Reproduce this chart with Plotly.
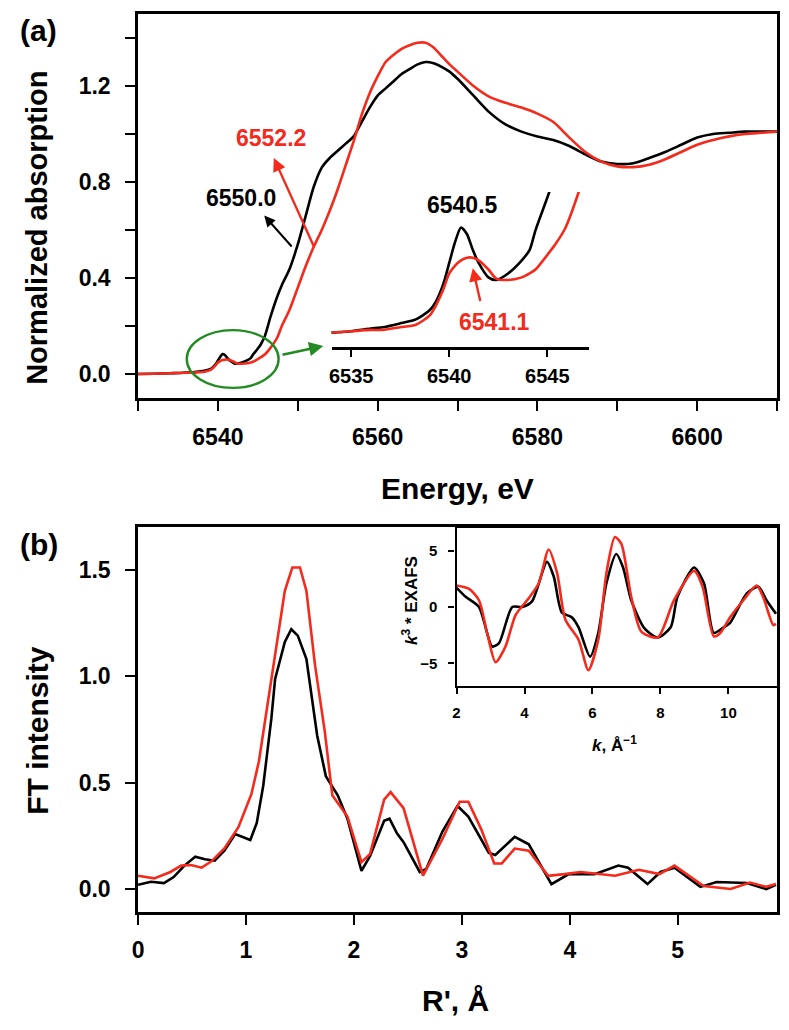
import plotly.graph_objects as go

# ---------------- Panel (a): XANES ----------------
energy = [6530, 6532, 6534, 6535, 6536, 6536.6, 6537.5, 6538.3, 6539, 6539.3, 6539.7, 6540, 6540.3,
          6540.6, 6540.9, 6541.2, 6541.5, 6542, 6542.4, 6543, 6543.7, 6544.1, 6544.4, 6545.1, 6545.4,
          6545.9, 6546.6, 6547.4, 6548, 6549, 6550, 6551, 6552, 6553, 6554, 6555, 6556, 6557, 6558,
          6559, 6560, 6561, 6562, 6563, 6564, 6565, 6566, 6567, 6568, 6569, 6570, 6572, 6574, 6576,
          6578, 6580, 6582, 6584, 6586, 6588, 6590, 6592, 6594, 6596, 6598, 6600, 6602, 6604, 6606,
          6608, 6610]
xanes_black = [0.000, 0.001, 0.003, 0.004, 0.006, 0.007, 0.010, 0.013, 0.020, 0.026, 0.040, 0.056, 0.072,
               0.083, 0.078, 0.066, 0.056, 0.045, 0.043, 0.048, 0.058, 0.066, 0.081, 0.110, 0.125,
               0.160, 0.240, 0.320, 0.370, 0.440, 0.540, 0.660, 0.780, 0.860, 0.900, 0.930, 0.960, 0.990, 1.050,
               1.110, 1.160, 1.190, 1.220, 1.250, 1.270, 1.290, 1.300, 1.295, 1.280, 1.260, 1.230, 1.160, 1.090, 1.040,
               1.010, 0.990, 0.975, 0.950, 0.915, 0.885, 0.875, 0.878, 0.900, 0.925, 0.955, 0.985, 1.000, 1.005, 1.010,
               1.010, 1.010]
xanes_red = [0.000, 0.001, 0.003, 0.004, 0.005, 0.005, 0.007, 0.009, 0.016, 0.023, 0.036, 0.048, 0.054,
             0.058, 0.060, 0.060, 0.058, 0.051, 0.044, 0.043, 0.045, 0.048, 0.051, 0.064, 0.070,
             0.082, 0.110, 0.150, 0.200, 0.270, 0.360, 0.450, 0.530, 0.600, 0.680, 0.770, 0.870, 0.970, 1.080,
             1.170, 1.240, 1.300, 1.330, 1.355, 1.370, 1.380, 1.380, 1.360, 1.325, 1.290, 1.260, 1.200, 1.155, 1.130,
             1.110, 1.085, 1.050, 0.985, 0.925, 0.885, 0.865, 0.862, 0.872, 0.895, 0.925, 0.955, 0.975, 0.990, 1.000,
             1.005, 1.010]

a_xticks = [6530, 6540, 6550, 6560, 6570, 6580, 6590, 6600, 6610]
a_xlabels = ["", "6540", "", "6560", "", "6580", "", "6600", ""]
a_yticks = [0.0, 0.2, 0.4, 0.6, 0.8, 1.0, 1.2, 1.4]
a_ylabels = ["0.0", "", "0.4", "", "0.8", "", "1.2", ""]
inset_a_ticks = [6535, 6540, 6545]

# ---------------- Panel (b): FT-EXAFS ----------------
r_black = [0.0, 0.12, 0.24, 0.33, 0.43, 0.53, 0.62, 0.71, 0.80, 0.90, 1.04, 1.10, 1.16, 1.235, 1.27, 1.36,
           1.42, 1.48, 1.56, 1.66, 1.74, 1.85, 1.94, 2.07, 2.15, 2.28, 2.33, 2.40, 2.46, 2.61, 2.67, 2.82,
           2.96, 3.06, 3.25, 3.31, 3.49, 3.62, 3.83, 3.99, 4.23, 4.45, 4.54, 4.72, 4.84, 4.97, 5.21, 5.36,
           5.64, 5.82, 5.91]
ft_black = [0.020, 0.034, 0.028, 0.056, 0.110, 0.152, 0.140, 0.133, 0.180, 0.258, 0.230, 0.310, 0.485, 0.800, 0.986, 1.160,
            1.220, 1.190, 1.080, 0.720, 0.530, 0.440, 0.330, 0.085, 0.155, 0.320, 0.330, 0.260, 0.220, 0.080, 0.094, 0.270,
            0.390, 0.340, 0.170, 0.160, 0.245, 0.210, 0.023, 0.070, 0.070, 0.110, 0.100, 0.023, 0.080, 0.100, 0.010, 0.033,
            0.028, 0.000, 0.020]
r_red = [0.0, 0.15, 0.30, 0.40, 0.49, 0.59, 0.68, 0.80, 0.93, 1.05, 1.12, 1.18, 1.25, 1.36, 1.43, 1.50,
         1.56, 1.64, 1.73, 1.80, 1.94, 2.07, 2.15, 2.28, 2.34, 2.40, 2.46, 2.64, 2.82, 2.98, 3.06, 3.18,
         3.30, 3.37, 3.49, 3.62, 3.80, 3.95, 4.10, 4.42, 4.64, 4.83, 4.97, 5.24, 5.49, 5.67, 5.82, 5.91]
ft_red = [0.062, 0.050, 0.080, 0.110, 0.113, 0.100, 0.130, 0.190, 0.290, 0.445, 0.600, 0.800, 1.050, 1.400, 1.510, 1.510,
          1.400, 1.050, 0.740, 0.440, 0.340, 0.126, 0.165, 0.420, 0.455, 0.420, 0.380, 0.063, 0.235, 0.410, 0.410, 0.280,
          0.120, 0.120, 0.190, 0.180, 0.062, 0.070, 0.080, 0.062, 0.090, 0.070, 0.110, 0.014, 0.000, 0.030, 0.010, 0.023]
b_xticks = [0, 1, 2, 3, 4, 5]
b_yticks = [0.0, 0.5, 1.0, 1.5]
b_ylabels = ["0.0", "0.5", "1.0", "1.5"]

# Inset (b): k^3-weighted EXAFS
k_black = [2.0, 2.27, 2.66, 3.05, 3.25, 3.64, 3.93, 4.22, 4.66, 4.86, 5.10, 5.39, 5.59, 5.93, 6.17, 6.41,
           6.70, 6.90, 7.14, 7.53, 7.92, 8.30, 8.50, 8.99, 9.28, 9.57, 9.86, 10.05, 10.54, 10.88, 11.12, 11.40]
chi_black = [1.7, 0.9, 0.0, -3.5, -3.2, 0.0, 0.0, 0.5, 4.0, 2.7, -0.5, -0.9, -1.8, -4.4, -2.3, 2.1,
             4.7, 3.5, 0.6, -1.9, -2.7, -1.8, 0.9, 3.5, 2.1, -2.3, -1.8, -1.4, 1.2, 1.8, 0.6, -0.6]
k_red = [2.0, 2.37, 2.66, 2.90, 3.15, 3.44, 3.74, 4.13, 4.42, 4.71, 4.96, 5.20, 5.59, 5.88, 6.17, 6.41,
         6.66, 6.85, 7.14, 7.44, 7.92, 8.40, 8.99, 9.24, 9.57, 9.76, 10.05, 10.44, 10.83, 11.02, 11.32, 11.40]
chi_red = [1.9, 1.6, 0.6, -2.3, -4.9, -3.5, -0.7, 0.8, 2.1, 5.1, 3.0, -1.1, -2.9, -5.6, -2.9, 3.0,
           6.2, 5.6, 0.9, -2.2, -2.7, 0.6, 3.2, 1.8, -2.6, -2.3, -0.9, 0.6, 1.9, 0.9, -1.6, -1.5]
inset_b_xticks = [2, 4, 6, 8, 10]
inset_b_yticks = [-5, 0, 5]

BLACK = "#000000"
RED = "#F42A1C"
GREEN = "#228B22"
FONT = "Arial, Liberation Sans, sans-serif"
# the page body has an 8 px margin: the figure is sized to fit inside it
OFF = 8
W, H = 789 - 2 * OFF, 1030 - 2 * OFF


def px(x):
    return (x - OFF) / W


def py(y):
    return 1 - (y - OFF) / H


fig = go.Figure()
lw = 2.6
smooth = dict(shape="spline", smoothing=0.7)
fig.add_trace(go.Scatter(x=energy, y=xanes_black, mode="lines", line=dict(color=BLACK, width=lw, **smooth), xaxis="x", yaxis="y"))
fig.add_trace(go.Scatter(x=energy, y=xanes_red, mode="lines", line=dict(color=RED, width=lw, **smooth), xaxis="x", yaxis="y"))
fig.add_trace(go.Scatter(x=energy, y=xanes_black, mode="lines", line=dict(color=BLACK, width=lw, **smooth), xaxis="x2", yaxis="y2"))
fig.add_trace(go.Scatter(x=energy, y=xanes_red, mode="lines", line=dict(color=RED, width=lw, **smooth), xaxis="x2", yaxis="y2"))
fig.add_trace(go.Scatter(x=r_black, y=ft_black, mode="lines", line=dict(color=BLACK, width=lw), xaxis="x3", yaxis="y3"))
fig.add_trace(go.Scatter(x=r_red, y=ft_red, mode="lines", line=dict(color=RED, width=lw), xaxis="x3", yaxis="y3"))
fig.add_trace(go.Scatter(x=k_black, y=chi_black, mode="lines", line=dict(color=BLACK, width=lw, **smooth), xaxis="x4", yaxis="y4"))
fig.add_trace(go.Scatter(x=k_red, y=chi_red, mode="lines", line=dict(color=RED, width=lw, **smooth), xaxis="x4", yaxis="y4"))

tick_font = dict(family=FONT, size=23, color="black", weight="bold")
frame = dict(showline=True, linewidth=2.6, linecolor="black", mirror=True, showgrid=False, zeroline=False,
             ticks="outside", ticklen=10, tickwidth=2.4, tickcolor="black", tickfont=tick_font)

fig.update_layout(
    width=W, height=H, margin=dict(l=0, r=0, t=0, b=0), showlegend=False,
    paper_bgcolor="white", plot_bgcolor="rgba(0,0,0,0)",
    xaxis=dict(domain=[px(133), px(777)], anchor="y", range=[6530, 6610], tickvals=a_xticks, ticktext=a_xlabels,
               ticklabelstandoff=7, **frame),
    yaxis=dict(domain=[py(398), py(14)], anchor="x", range=[-0.1, 1.5], tickvals=a_yticks, ticktext=a_ylabels,
               ticklabelstandoff=10, **frame),
    xaxis2=dict(domain=[px(328), px(587)], anchor="y2", range=[6534, 6547.1], tickvals=inset_a_ticks,
                showline=True, linewidth=2.6, linecolor="black", mirror=False, showgrid=False, zeroline=False,
                ticks="outside", ticklen=7, tickwidth=2.4, tickcolor="black", ticklabelstandoff=2,
                tickfont=dict(family=FONT, size=20, color="black", weight="bold")),
    yaxis2=dict(domain=[py(347), py(192)], anchor="x2", range=[-0.008, 0.11], visible=False),
    xaxis3=dict(domain=[px(133), px(777)], anchor="y3", range=[0, 5.92], tickvals=b_xticks,
                ticklabelstandoff=6, **frame),
    yaxis3=dict(domain=[py(912), py(527)], anchor="x3", range=[-0.108, 1.70], tickvals=b_yticks, ticktext=b_ylabels,
                ticklabelstandoff=10, **frame),
    xaxis4=dict(domain=[px(454), px(777)], anchor="y4", range=[2, 11.43], tickvals=inset_b_xticks,
                showline=True, linewidth=2.4, linecolor="black", mirror=True, showgrid=False, zeroline=False,
                ticks="outside", ticklen=6, tickwidth=2, tickcolor="black", ticklabelstandoff=6,
                tickfont=dict(family=FONT, size=15, color="black", weight="bold")),
    yaxis4=dict(domain=[py(686), py(528)], anchor="x4", range=[-7, 7], tickvals=inset_b_yticks,
                showline=True, linewidth=2.4, linecolor="black", mirror=True, showgrid=False, zeroline=False,
                ticks="outside", ticklen=6, tickwidth=2, tickcolor="black", ticklabelstandoff=8,
                tickfont=dict(family=FONT, size=15, color="black", weight="bold")),
)

title_font = dict(family=FONT, size=30, color="black", weight="bold")
ann = []


def paper_text(text, x, y, font, angle=0):
    ann.append(dict(text=text, x=px(x), y=py(y), xref="paper", yref="paper", showarrow=False,
                    xanchor="center", yanchor="middle", textangle=angle, font=font))


paper_text("(a)", 33, 30, title_font)
paper_text("(b)", 33, 544, title_font)
paper_text("Normalized absorption", 31, 228, dict(family=FONT, size=29, color="black", weight="bold"), -90)
paper_text("Energy, eV", 455, 488, title_font)
paper_text("FT intensity", 31, 730, title_font, -90)
paper_text("R', Å", 453, 1000, title_font)
small = dict(family=FONT, size=17, color="black", weight="bold")
paper_text("<i>k</i><sup>3</sup> * EXAFS", 407, 600, small, -90)
paper_text("<i>k</i>, Å<sup>−1</sup>", 613, 744, small)

lab_font_k = dict(family=FONT, size=23, color=BLACK, weight="bold")
lab_font_r = dict(family=FONT, size=23, color=RED, weight="bold")
# labels in panel (a)
ann.append(dict(text="6550.0", x=6542.9, y=0.733, xref="x", yref="y", showarrow=False, font=lab_font_k))
ann.append(dict(text="6552.2", x=6546.6, y=0.983, xref="x", yref="y", showarrow=False, font=lab_font_r))
ann.append(dict(text="6540.5", x=6540.7, y=0.100, xref="x2", yref="y2", showarrow=False, font=lab_font_k))
ann.append(dict(text="6541.1", x=6542.3, y=0.0113, xref="x2", yref="y2", showarrow=False, font=lab_font_r))
# arrows
ann.append(dict(text="", x=6545.8, y=0.66, ax=6549.4, ay=0.525, xref="x", yref="y", axref="x", ayref="y",
                showarrow=True, arrowhead=2, arrowsize=1.1, arrowwidth=2, arrowcolor=BLACK))
ann.append(dict(text="", x=6547.0, y=0.90, ax=6552.1, ay=0.525, xref="x", yref="y", axref="x", ayref="y",
                showarrow=True, arrowhead=2, arrowsize=1.1, arrowwidth=2.4, arrowcolor=RED))
ann.append(dict(text="", x=6553.2, y=0.117, ax=6547.9, ay=0.079, xref="x", yref="y", axref="x", ayref="y",
                showarrow=True, arrowhead=2, arrowsize=1.1, arrowwidth=2.6, arrowcolor=GREEN))
ann.append(dict(text="", x=6541.2, y=0.052, ax=6541.6, ay=0.0258, xref="x2", yref="y2", axref="x2", ayref="y2",
                showarrow=True, arrowhead=2, arrowsize=1.1, arrowwidth=2.4, arrowcolor=RED))

fig.update_layout(annotations=ann)
fig.add_shape(type="circle", xref="x", yref="y", x0=6536.1, x1=6547.6, y0=-0.058, y1=0.183,
              line=dict(color=GREEN, width=2.4))

fig.write_html("out.html")
